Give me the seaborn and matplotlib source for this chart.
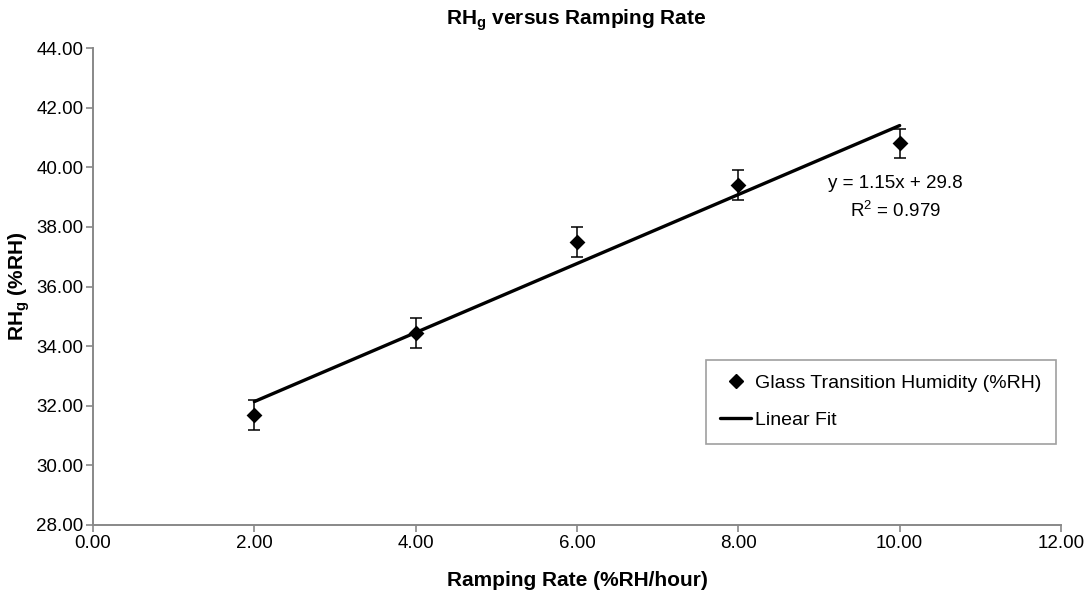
import matplotlib
matplotlib.use("Agg")
import matplotlib.pyplot as plt
from matplotlib.lines import Line2D
import seaborn as sns
import numpy as np
import pandas as pd

ramping_rate = [2.0, 4.0, 6.0, 8.0, 10.0]
rhg = [31.7, 34.45, 37.5, 39.4, 40.8]
rhg_err = [0.5, 0.5, 0.5, 0.5, 0.5]
x_ticks = [0, 2, 4, 6, 8, 10, 12]
y_ticks = [28, 30, 32, 34, 36, 38, 40, 42, 44]

sns.set_theme(style="white")
plt.rcParams['font.family'] = ['Liberation Sans', 'DejaVu Sans']
plt.rcParams['mathtext.fontset'] = 'custom'
plt.rcParams['mathtext.rm'] = 'Liberation Sans'
plt.rcParams['mathtext.bf'] = 'Liberation Sans:bold'
plt.rcParams['text.color'] = 'black'
plt.rcParams['axes.labelcolor'] = 'black'

df = pd.DataFrame({"x": ramping_rate, "y": rhg, "err": rhg_err})

fig = plt.figure(figsize=(10.92, 5.93), dpi=100)
ax = fig.add_axes([0.0852, 0.1147, 0.8864, 0.8043])

sns.regplot(data=df, x="x", y="y", scatter=False, ci=None, ax=ax,
            line_kws=dict(color="black", lw=2.4))
ax.errorbar(df["x"], df["y"], yerr=df["err"], fmt="none", ecolor="black",
            elinewidth=1.1, capsize=4.3, capthick=1.1, zorder=3)
sns.scatterplot(data=df, x="x", y="y", marker="D", color="black", s=65,
                edgecolor="black", linewidth=0, ax=ax, zorder=4)

ax.set_xlim(0, 12)
ax.set_ylim(28, 44)
ax.set_xticks(x_ticks)
ax.set_yticks(y_ticks)
ax.set_xticklabels([f"{v:.2f}" for v in x_ticks], fontsize=13.5)
ax.set_yticklabels([f"{v:.2f}" for v in y_ticks], fontsize=13.5)
ax.tick_params(axis="both", which="major", bottom=True, left=True,
               direction="out", length=5, width=1.2, color="#888888",
               labelcolor="black", pad=2)
for s in ["top", "right"]:
    ax.spines[s].set_visible(False)
for s in ["left", "bottom"]:
    ax.spines[s].set_color("#888888")
    ax.spines[s].set_linewidth(1.4)

ax.set_xlabel("Ramping Rate (%RH/hour)", fontsize=15, fontweight="bold", labelpad=14)
ax.set_ylabel(r"RH$_\mathbf{g}$ (%RH)", fontsize=15, fontweight="bold", labelpad=3)
fig.text(0.528, 0.966, r"RH$_\mathbf{g}$ versus Ramping Rate", fontsize=15,
         fontweight="bold", ha="center", va="center")

ax.text(0.8285, 0.715, "y = 1.15x + 29.8", transform=ax.transAxes, fontsize=13.5,
        ha="center", va="center")
ax.text(0.8285, 0.660, r"R$^2$ = 0.979", transform=ax.transAxes, fontsize=13.5,
        ha="center", va="center")

handles = [Line2D([], [], marker="D", color="black", linestyle="none", markersize=7),
           Line2D([], [], color="black", lw=2.4)]
leg = ax.legend(handles, ["Glass Transition Humidity (%RH)", "Linear Fit"],
                loc="upper left", bbox_to_anchor=(0.633, 0.346), fontsize=14,
                frameon=True, fancybox=False, edgecolor="#888888",
                handlelength=1.6, handletextpad=0.2, borderpad=0.75,
                labelspacing=1.0, borderaxespad=0)
leg.get_frame().set_linewidth(1.2)

fig.savefig("out.png", dpi=100)
